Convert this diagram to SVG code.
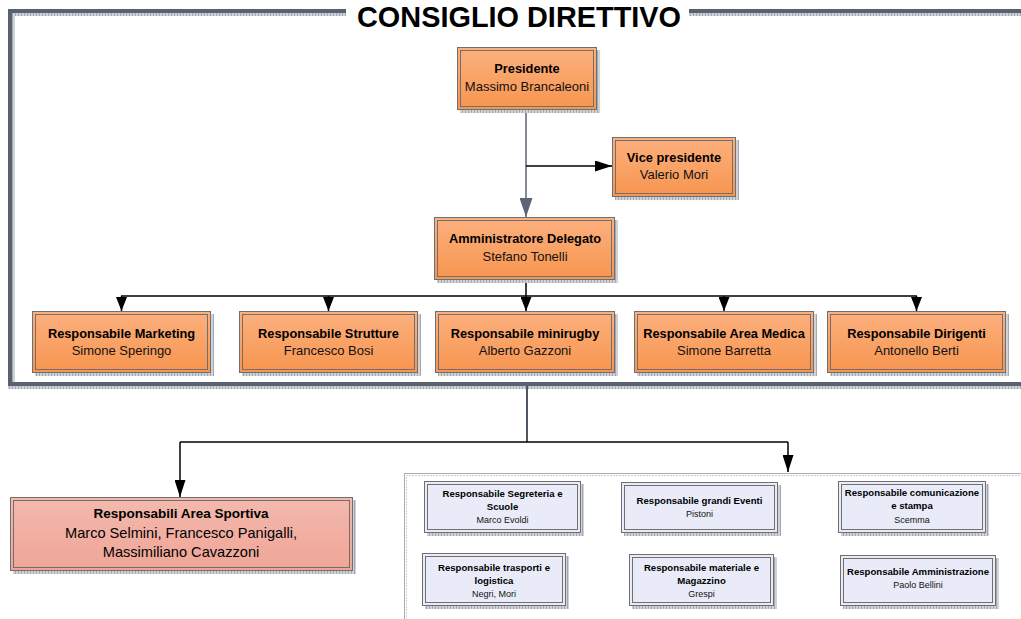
<svg xmlns="http://www.w3.org/2000/svg" width="1021" height="619" viewBox="0 0 1021 619">
<defs>
<linearGradient id="gOr" x1="0" y1="0" x2="0" y2="1"><stop offset="0" stop-color="#fcb07e"/><stop offset="1" stop-color="#f7954f"/></linearGradient>
<linearGradient id="gPk" x1="0" y1="0" x2="0" y2="1"><stop offset="0" stop-color="#f4b9ae"/><stop offset="1" stop-color="#eea596"/></linearGradient>
<pattern id="hatch" width="3" height="3" patternUnits="userSpaceOnUse"><rect width="3" height="3" fill="#cfd2d8"/><rect width="1" height="3" fill="#a3a8b0"/></pattern>
<marker id="ah" viewBox="0 0 10 10" refX="10" refY="5" markerWidth="14" markerHeight="11" markerUnits="userSpaceOnUse" orient="auto" preserveAspectRatio="none"><path d="M0,0 L10,5 L0,10 Z" fill="#000"/></marker>
<marker id="ahL" viewBox="0 0 10 10" refX="10" refY="5" markerWidth="17" markerHeight="11" markerUnits="userSpaceOnUse" orient="auto" preserveAspectRatio="none"><path d="M0,0 L10,5 L0,10 Z" fill="#000"/></marker>
<marker id="ahG" viewBox="0 0 10 10" refX="10" refY="5" markerWidth="19" markerHeight="13" markerUnits="userSpaceOnUse" orient="auto" preserveAspectRatio="none"><path d="M0,0 L10,5 L0,10 Z" fill="#5b6577"/></marker>
</defs>
<style>
.sh{fill:url(#hatch)}
.bo{stroke:#6f6f6f;stroke-width:1}
.bi{fill:none;stroke:#6f6f6f;stroke-width:1}
.or{fill:url(#gOr)}
.pk{fill:url(#gPk)}
.lv{fill:#e9ecf8}
.t{font-family:"Liberation Sans",Arial,sans-serif;text-anchor:middle;fill:#000}
.b13{font-size:12.8px;font-weight:bold}
.r13{font-size:13px;fill:#111}
.b10{font-size:9.6px;font-weight:bold}
.r9{font-size:9px;fill:#111}
.conn{fill:none;stroke:#000;stroke-width:1.5}
</style>
<rect width="1021" height="619" fill="#fff"/>
<g id="frame">
<rect x="12" y="13" width="334" height="3" class="sh"/>
<rect x="689" y="13" width="332" height="3" class="sh"/>
<rect x="12" y="13" width="3" height="369" class="sh"/>
<rect x="8" y="386" width="1013" height="3" class="sh"/>
<path d="M10,384 V11 H346 M689,11 H1021 M8,384 H1021" fill="none" stroke="#5a6270" stroke-width="4"/>
<text x="519" y="27" font-family="Liberation Sans,Arial,sans-serif" font-size="30" font-weight="bold" text-anchor="middle" textLength="324" lengthAdjust="spacingAndGlyphs" fill="#000">CONSIGLIO DIRETTIVO</text>
</g>
<g id="container">
<rect x="404.5" y="473.5" width="640" height="170" fill="none" stroke="#a9adb3"/>
<path d="M406.5,620 V475.5 H1021" fill="none" stroke="#c9ccd1" stroke-dasharray="2 1"/>
</g>
<g id="connectors">
<path d="M526,110 V217" fill="none" stroke="#5b6577" stroke-width="1.5" marker-end="url(#ahG)"/>
<path d="M526,166 H612" class="conn" marker-end="url(#ahL)"/>
<path d="M526,280 V311" class="conn" marker-end="url(#ah)"/>
<path d="M121,296 H917" class="conn"/>
<path d="M121.5,296 V311" class="conn" marker-end="url(#ah)"/>
<path d="M328.5,296 V311" class="conn" marker-end="url(#ah)"/>
<path d="M724,296 V311" class="conn" marker-end="url(#ah)"/>
<path d="M916.5,296 V311" class="conn" marker-end="url(#ah)"/>
<path d="M527,386 V442" fill="none" stroke="#4f5663" stroke-width="2"/>
<path d="M180,442 H788" class="conn"/>
<path d="M180,442 V497" class="conn" marker-end="url(#ahL)"/>
<path d="M788,442 V472" class="conn" marker-end="url(#ahL)"/>
</g>
<g id="presidente">
<rect x="460" y="50" width="140" height="63" class="sh"/>
<rect x="457.5" y="47.5" width="139" height="62" class="or bo"/>
<rect x="460.5" y="50.5" width="133" height="56" class="bi"/>
<text x="527" y="73" class="t b13">Presidente</text>
<text x="527" y="91" class="t r13">Massimo Brancaleoni</text>
</g>
<g id="vicepresidente">
<rect x="615" y="140" width="124" height="60" class="sh"/>
<rect x="612.5" y="137.5" width="123" height="59" class="or bo"/>
<rect x="615.5" y="140.5" width="117" height="53" class="bi"/>
<text x="674" y="162" class="t b13">Vice presidente</text>
<text x="674" y="179" class="t r13">Valerio Mori</text>
</g>
<g id="amministratore">
<rect x="437" y="220" width="181" height="63" class="sh"/>
<rect x="434.5" y="217.5" width="180" height="62" class="or bo"/>
<rect x="437.5" y="220.5" width="174" height="56" class="bi"/>
<text x="525" y="243" class="t b13">Amministratore Delegato</text>
<text x="525" y="261" class="t r13">Stefano Tonelli</text>
</g>
<g id="marketing">
<rect x="35" y="314" width="179" height="62" class="sh"/>
<rect x="32.5" y="311.5" width="178" height="61" class="or bo"/>
<rect x="35.5" y="314.5" width="172" height="55" class="bi"/>
<text x="121.5" y="338" class="t b13">Responsabile Marketing</text>
<text x="121.5" y="355" class="t r13">Simone Speringo</text>
</g>
<g id="strutture">
<rect x="242" y="314" width="179" height="62" class="sh"/>
<rect x="239.5" y="311.5" width="178" height="61" class="or bo"/>
<rect x="242.5" y="314.5" width="172" height="55" class="bi"/>
<text x="328.5" y="338" class="t b13">Responsabile Strutture</text>
<text x="328.5" y="355" class="t r13">Francesco Bosi</text>
</g>
<g id="minirugby">
<rect x="438" y="314" width="180" height="62" class="sh"/>
<rect x="435.5" y="311.5" width="179" height="61" class="or bo"/>
<rect x="438.5" y="314.5" width="173" height="55" class="bi"/>
<text x="525" y="338" class="t b13">Responsabile minirugby</text>
<text x="525" y="355" class="t r13">Alberto Gazzoni</text>
</g>
<g id="areamedica">
<rect x="637" y="314" width="180" height="62" class="sh"/>
<rect x="634.5" y="311.5" width="179" height="61" class="or bo"/>
<rect x="637.5" y="314.5" width="173" height="55" class="bi"/>
<text x="724" y="338" class="t b13">Responsabile Area Medica</text>
<text x="724" y="355" class="t r13">Simone Barretta</text>
</g>
<g id="dirigenti">
<rect x="830" y="314" width="179" height="62" class="sh"/>
<rect x="827.5" y="311.5" width="178" height="61" class="or bo"/>
<rect x="830.5" y="314.5" width="172" height="55" class="bi"/>
<text x="916.5" y="338" class="t b13">Responsabile Dirigenti</text>
<text x="916.5" y="355" class="t r13">Antonello Berti</text>
</g>
<g id="areasportiva">
<rect x="13" y="500" width="343" height="74" class="sh"/>
<rect x="10.5" y="497.5" width="342" height="73" class="pk bo"/>
<rect x="13.5" y="500.5" width="336" height="67" class="bi"/>
<text x="181" y="518" class="t" font-size="13.5" font-weight="bold">Responsabili Area Sportiva</text>
<text x="181" y="538" class="t" font-size="14.6" fill="#111">Marco Selmini, Francesco Panigalli,</text>
<text x="181" y="557" class="t" font-size="14.6" fill="#111">Massimiliano Cavazzoni</text>
</g>
<g id="segreteria">
<rect x="427" y="484" width="157" height="52" class="sh"/>
<rect x="424.5" y="481.5" width="156" height="51" class="lv bo"/>
<rect x="427.5" y="484.5" width="150" height="45" class="bi"/>
<text x="502.5" y="497" class="t b10">Responsabile Segreteria e</text>
<text x="502.5" y="510" class="t b10">Scuole</text>
<text x="502.5" y="523" class="t r9">Marco Evoldi</text>
</g>
<g id="eventi">
<rect x="624" y="485" width="157" height="51" class="sh"/>
<rect x="621.5" y="482.5" width="156" height="50" class="lv bo"/>
<rect x="624.5" y="485.5" width="150" height="44" class="bi"/>
<text x="699.5" y="504" class="t b10">Responsabile grandi Eventi</text>
<text x="699.5" y="517" class="t r9">Pistoni</text>
</g>
<g id="comunicazione">
<rect x="841" y="484" width="148" height="52" class="sh"/>
<rect x="838.5" y="481.5" width="147" height="51" class="lv bo"/>
<rect x="841.5" y="484.5" width="141" height="45" class="bi"/>
<text x="912" y="496" class="t b10">Responsabile comunicazione</text>
<text x="912" y="509" class="t b10">e stampa</text>
<text x="912" y="523" class="t r9">Scemma</text>
</g>
<g id="trasporti">
<rect x="425" y="556" width="144" height="53" class="sh"/>
<rect x="422.5" y="553.5" width="143" height="52" class="lv bo"/>
<rect x="425.5" y="556.5" width="137" height="46" class="bi"/>
<text x="494" y="571" class="t b10">Responsabile trasporti e</text>
<text x="494" y="584" class="t b10">logistica</text>
<text x="494" y="597" class="t r9">Negri, Mori</text>
</g>
<g id="materiale">
<rect x="632" y="557" width="145" height="52" class="sh"/>
<rect x="629.5" y="554.5" width="144" height="51" class="lv bo"/>
<rect x="632.5" y="557.5" width="138" height="45" class="bi"/>
<text x="701.5" y="571" class="t b10">Responsabile materiale e</text>
<text x="701.5" y="584" class="t b10">Magazzino</text>
<text x="701.5" y="597" class="t r9">Grespi</text>
</g>
<g id="amministrazione">
<rect x="843" y="558" width="156" height="51" class="sh"/>
<rect x="840.5" y="555.5" width="155" height="50" class="lv bo"/>
<rect x="843.5" y="558.5" width="149" height="44" class="bi"/>
<text x="918" y="575" class="t b10" font-size="9.2">Responsabile Amministrazione</text>
<text x="918" y="588" class="t r9">Paolo Bellini</text>
</g>
</svg>
